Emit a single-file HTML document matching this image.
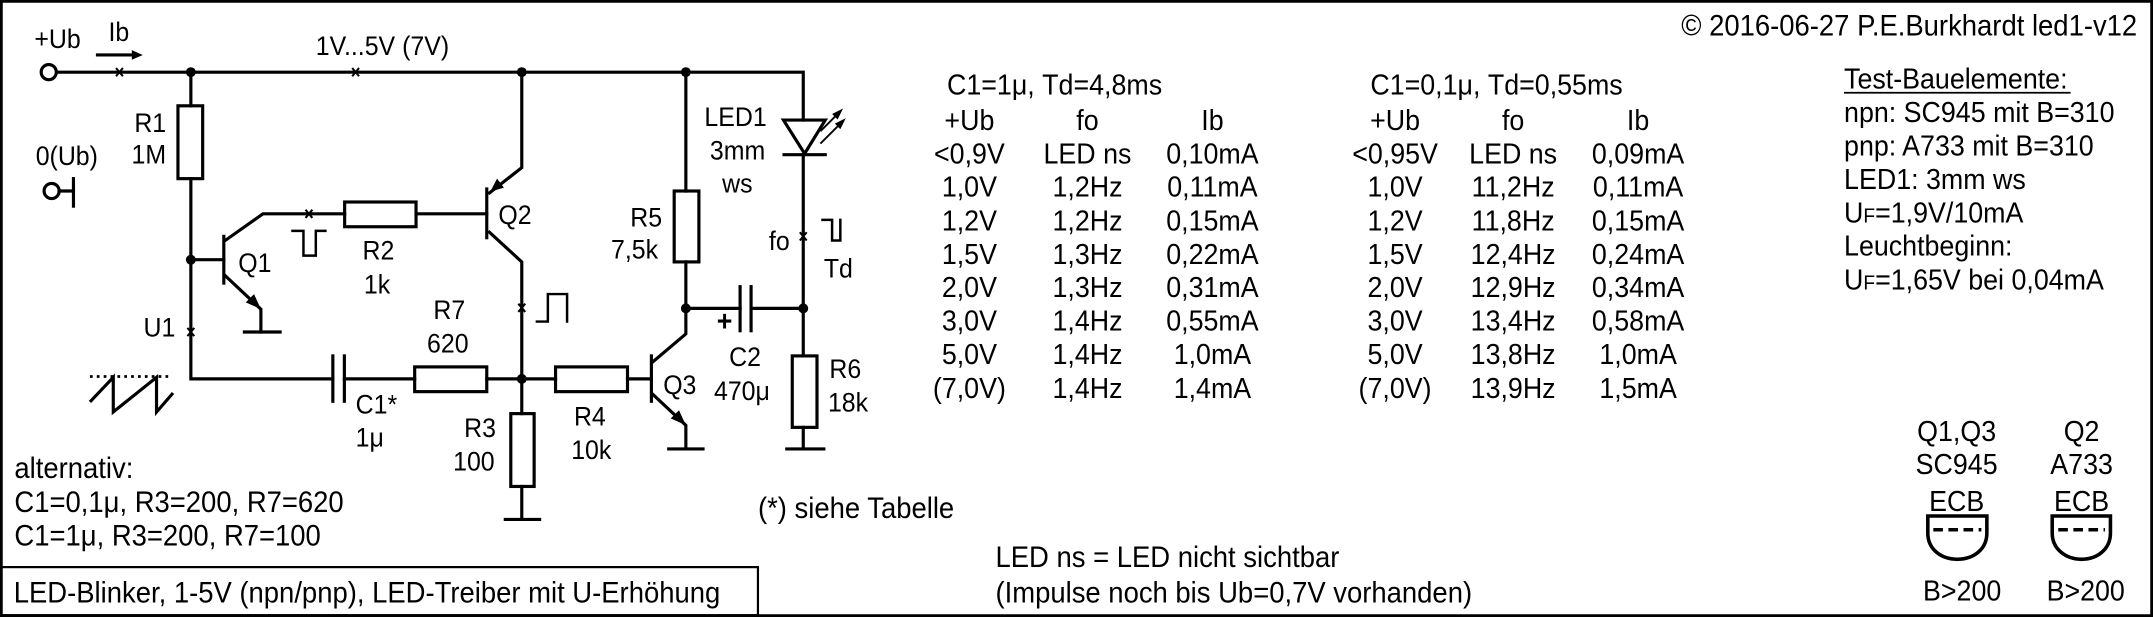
<!DOCTYPE html>
<html><head><meta charset="utf-8"><style>
html,body{margin:0;padding:0;background:#fff}
svg{display:block}
text{font-family:"Liberation Sans Narrow","Liberation Sans",sans-serif;fill:#000;transform-box:fill-box;transform-origin:0% 50%;transform:scaleX(.93)}
text[text-anchor="middle"], g[text-anchor="middle"] text{transform-origin:50% 50%}
text[text-anchor="end"]{transform-origin:100% 50%}
g[text-anchor="middle"] text[text-anchor="start"]{transform-origin:0% 50%}
</style></head><body>
<svg width="2153" height="617" viewBox="0 0 1568 449" preserveAspectRatio="none" xmlns="http://www.w3.org/2000/svg">
<rect x="1" y="1" width="1566" height="447" fill="#fff" stroke="#000" stroke-width="2"/>
<rect x="1" y="412.7" width="551" height="35" fill="none" stroke="#000" stroke-width="1.6"/>
<g fill="none" stroke="#000" stroke-width="2.3" stroke-linecap="square">
<polyline points="41.5,52.5 585,52.5 585,87.4"/>
<circle cx="35.5" cy="52.5" r="5.5" fill="#fff"/>
<line x1="71" y1="40" x2="98" y2="40"/>
<circle cx="37.6" cy="139" r="5.5" fill="#fff"/>
<line x1="43" y1="139" x2="53.5" y2="139"/>
<line x1="53.5" y1="130" x2="53.5" y2="150"/>
<line x1="139" y1="52.5" x2="139" y2="77"/>
<rect x="129.6" y="77" width="18" height="53"/>
<polyline points="139,130 139,275.7 242.4,275.7"/>
<line x1="242.4" y1="259" x2="242.4" y2="292"/>
<line x1="250.8" y1="259" x2="250.8" y2="292"/>
<line x1="250.8" y1="275.7" x2="302" y2="275.7"/>
<rect x="302" y="267" width="52.5" height="18"/>
<line x1="354.5" y1="275.7" x2="404.6" y2="275.7"/>
<rect x="404.6" y="267" width="52.4" height="18"/>
<line x1="457" y1="275.7" x2="474.4" y2="275.7"/>
<line x1="139" y1="189" x2="163" y2="189"/>
<line x1="163" y1="172" x2="163" y2="206"/>
<polyline points="164,175 191.5,155.6 251,155.6"/>
<rect x="251" y="147" width="52" height="18"/>
<line x1="303" y1="155.6" x2="354.5" y2="155.6"/>
<polyline points="164,200.6 190,225 190,241.6"/>
<line x1="178" y1="241.6" x2="204" y2="241.6"/>
<line x1="354.5" y1="137.5" x2="354.5" y2="173"/>
<polyline points="380,52.5 380,122 356.5,140.4"/>
<polyline points="356.5,169 380,190.6 380,275.7"/>
<line x1="380" y1="275.7" x2="380" y2="301"/>
<rect x="372" y="301" width="17" height="53"/>
<line x1="380" y1="354" x2="380" y2="378"/>
<line x1="368" y1="378" x2="393" y2="378"/>
<line x1="474.4" y1="259" x2="474.4" y2="292"/>
<polyline points="475,263.7 499.5,243 499.5,224.4"/>
<polyline points="475,286.6 499.5,309.5 499.5,326.7"/>
<line x1="487" y1="326.7" x2="512" y2="326.7"/>
<line x1="499.5" y1="52.5" x2="499.5" y2="139"/>
<rect x="491" y="139" width="18" height="51.6"/>
<line x1="499.5" y1="190.6" x2="499.5" y2="224.4"/>
<line x1="499.5" y1="224.4" x2="539" y2="224.4"/>
<line x1="539" y1="208.6" x2="539" y2="240.7"/>
<line x1="547" y1="208.6" x2="547" y2="240.7"/>
<line x1="547" y1="224.4" x2="585" y2="224.4"/>
<polygon points="570.6,87.4 601,87.4 586,111.8"/>
<line x1="571" y1="112.6" x2="601" y2="112.6"/>
<line x1="585" y1="112.6" x2="585" y2="259"/>
<rect x="577" y="259" width="18" height="52"/>
<line x1="585" y1="311" x2="585" y2="326.7"/>
<line x1="573" y1="326.7" x2="600" y2="326.7"/>
<g stroke-width="1.4">
<line x1="598" y1="95" x2="611" y2="82"/>
<line x1="598" y1="104" x2="613" y2="89"/>
</g>
<polyline stroke-width="1.8" points="213,168 221,168 221,186 230,186 230,168 237,168"/>
<polyline stroke-width="1.8" points="391,234 399,234 399,214 413,214 413,234"/>
<polyline stroke-width="1.8" points="599,160 606,160 606,175 612,175 612,160"/>
<line x1="65.5" y1="274" x2="125" y2="274" stroke-width="2" stroke-dasharray="2,3" stroke-linecap="butt"/>
<polyline points="65.5,292.5 82.5,274.6 82.5,299.8 114,274.6 114,299.8 126,286" stroke-linecap="butt"/>
<path d="M1404,375.5 H1447 V388 C1447,400 1437,407 1425.5,407 C1414,407 1404,400 1404,388 Z" stroke-width="2.6"/>
<path d="M1494.6,375.5 H1537 V388 C1537,400 1527,407 1516,407 C1505,407 1494.6,400 1494.6,388 Z" stroke-width="2.6"/>
<line x1="1408" y1="385.5" x2="1443" y2="385.5" stroke-dasharray="7,4" stroke-linecap="butt" stroke-width="2.6"/>
<line x1="1499" y1="385.5" x2="1533" y2="385.5" stroke-dasharray="7,4" stroke-linecap="butt" stroke-width="2.6"/>
</g>
<g fill="#000">
<polygon points="104,40 96,36.5 96,43.5"/>
<polygon points="357,139.5 362,130 367,136.5"/>
<polygon points="190,225 179,220 185,214"/>
<polygon points="499.5,309.5 488.5,304.5 494.5,298.5"/>
<polygon points="614,79 606,83 610,87"/>
<polygon points="616,86 608,90 612,94"/>
<circle cx="139" cy="52.5" r="3.6"/><circle cx="380" cy="52.5" r="3.6"/><circle cx="499.5" cy="52.5" r="3.6"/>
<circle cx="139" cy="189" r="3.6"/><circle cx="380" cy="275.7" r="3.6"/>
<circle cx="499.5" cy="224.4" r="3.6"/><circle cx="585" cy="224.4" r="3.6"/>
</g>
<g stroke="#000" stroke-width="1.5">
<path d="M84.5,49.5 l5,6 M89.5,49.5 l-5,6"/>
<path d="M256.5,49.5 l5,6 M261.5,49.5 l-5,6"/>
<path d="M222.5,152.6 l5,6 M227.5,152.6 l-5,6"/>
<path d="M136.5,238.6 l5,6 M141.5,238.6 l-5,6"/>
<path d="M377.5,221 l5,6 M382.5,221 l-5,6"/>
<path d="M582.5,169 l5,6 M587.5,169 l-5,6"/>
</g>
<g font-size="19.5">
<text x="25" y="35">+Ub</text>
<text x="79" y="30">Ib</text>
<text x="230" y="40">1V...5V (7V)</text>
<text x="121" y="96" text-anchor="end">R1</text>
<text x="121" y="119" text-anchor="end">1M</text>
<text x="26" y="120">0(Ub)</text>
<text x="173.5" y="198">Q1</text>
<text x="363" y="163">Q2</text>
<text x="264" y="189">R2</text>
<text x="265" y="213.5">1k</text>
<text x="104.5" y="245">U1</text>
<text x="315.6" y="232">R7</text>
<text x="311" y="256.5">620</text>
<text x="259" y="301">C1*</text>
<text x="259" y="325">1μ</text>
<text x="338" y="318">R3</text>
<text x="330" y="342.5">100</text>
<text x="418" y="309.5">R4</text>
<text x="416" y="334">10k</text>
<text x="483" y="286.6">Q3</text>
<text x="459" y="165">R5</text>
<text x="445" y="188">7,5k</text>
<text x="522" y="241" font-weight="bold" font-size="21">+</text>
<text x="531" y="266.5">C2</text>
<text x="520" y="291">470μ</text>
<text x="604" y="275">R6</text>
<text x="603" y="299.5">18k</text>
<text x="513" y="91.7">LED1</text>
<text x="517" y="116">3mm</text>
<text x="526" y="140">ws</text>
<text x="560" y="182">fo</text>
<text x="600" y="202">Td</text>
</g>
<g font-size="21.5">
<text x="10.5" y="348">alternativ:</text>
<text x="10.5" y="372.6">C1=0,1μ, R3=200, R7=620</text>
<text x="10.5" y="397">C1=1μ, R3=200, R7=100</text>
<text x="10" y="438.5">LED-Blinker, 1-5V (npn/pnp), LED-Treiber mit U-Erhöhung</text>
<text x="552" y="377">(*) siehe Tabelle</text>
<text x="725" y="412.7">LED ns = LED nicht sichtbar</text>
<text x="725" y="438.5">(Impulse noch bis Ub=0,7V vorhanden)</text>
<text x="1556.5" y="25.8" text-anchor="end">© 2016-06-27 P.E.Burkhardt led1-v12</text>
</g>
<g font-size="21" text-anchor="middle">
<text x="689.7" y="68.8" text-anchor="start">C1=1μ, Td=4,8ms</text>
<text x="706" y="94.6">+Ub</text><text x="792" y="94.6">fo</text><text x="883" y="94.6">Ib</text>
<text x="706" y="119">&lt;0,9V</text><text x="792" y="119">LED ns</text><text x="883" y="119">0,10mA</text>
<text x="706" y="143">1,0V</text><text x="792" y="143">1,2Hz</text><text x="883" y="143">0,11mA</text>
<text x="706" y="167.7">1,2V</text><text x="792" y="167.7">1,2Hz</text><text x="883" y="167.7">0,15mA</text>
<text x="706" y="192">1,5V</text><text x="792" y="192">1,3Hz</text><text x="883" y="192">0,22mA</text>
<text x="706" y="216">2,0V</text><text x="792" y="216">1,3Hz</text><text x="883" y="216">0,31mA</text>
<text x="706" y="240.7">3,0V</text><text x="792" y="240.7">1,4Hz</text><text x="883" y="240.7">0,55mA</text>
<text x="706" y="265">5,0V</text><text x="792" y="265">1,4Hz</text><text x="883" y="265">1,0mA</text>
<text x="706" y="289.5">(7,0V)</text><text x="792" y="289.5">1,4Hz</text><text x="883" y="289.5">1,4mA</text>

<text x="998" y="68.8" text-anchor="start">C1=0,1μ, Td=0,55ms</text>
<text x="1016" y="94.6">+Ub</text><text x="1102" y="94.6">fo</text><text x="1193" y="94.6">Ib</text>
<text x="1016" y="119">&lt;0,95V</text><text x="1102" y="119">LED ns</text><text x="1193" y="119">0,09mA</text>
<text x="1016" y="143">1,0V</text><text x="1102" y="143">11,2Hz</text><text x="1193" y="143">0,11mA</text>
<text x="1016" y="167.7">1,2V</text><text x="1102" y="167.7">11,8Hz</text><text x="1193" y="167.7">0,15mA</text>
<text x="1016" y="192">1,5V</text><text x="1102" y="192">12,4Hz</text><text x="1193" y="192">0,24mA</text>
<text x="1016" y="216">2,0V</text><text x="1102" y="216">12,9Hz</text><text x="1193" y="216">0,34mA</text>
<text x="1016" y="240.7">3,0V</text><text x="1102" y="240.7">13,4Hz</text><text x="1193" y="240.7">0,58mA</text>
<text x="1016" y="265">5,0V</text><text x="1102" y="265">13,8Hz</text><text x="1193" y="265">1,0mA</text>
<text x="1016" y="289.5">(7,0V)</text><text x="1102" y="289.5">13,9Hz</text><text x="1193" y="289.5">1,5mA</text>

<text x="1425" y="321">Q1,Q3</text><text x="1425" y="345">SC945</text><text x="1425" y="372">ECB</text>
<text x="1516" y="321">Q2</text><text x="1516" y="345">A733</text><text x="1516" y="372">ECB</text>
<text x="1429" y="437">B&gt;200</text><text x="1519" y="437">B&gt;200</text>
</g>
<g font-size="21">
<text x="1343" y="64.5">Test-Bauelemente:</text>
<line x1="1343" y1="67.5" x2="1508" y2="67.5" stroke="#000" stroke-width="1.2"/>
<text x="1343" y="88.8">npn: SC945 mit B=310</text>
<text x="1343" y="113">pnp: A733 mit B=310</text>
<text x="1343" y="137.6">LED1: 3mm ws</text>
<text x="1343" y="162">U<tspan font-size="15">F</tspan>=1,9V/10mA</text>
<text x="1343" y="186">Leuchtbeginn:</text>
<text x="1343" y="210.7">U<tspan font-size="15">F</tspan>=1,65V bei 0,04mA</text>
</g>
</svg>
</body></html>
